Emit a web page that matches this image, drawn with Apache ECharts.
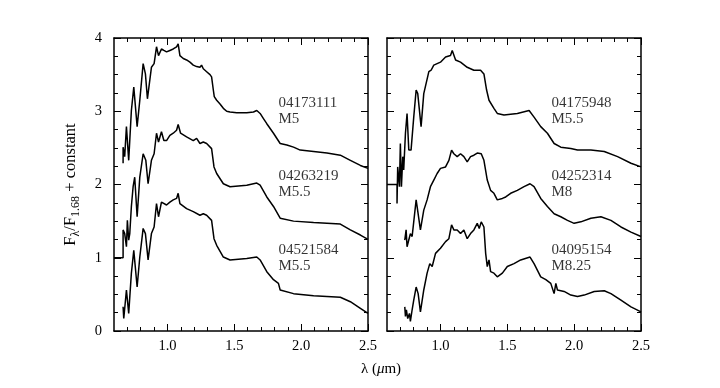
<!DOCTYPE html>
<html>
<head>
    <meta charset="utf-8">
    <title>M dwarf spectra</title>
    <script src="https://cdn.jsdelivr.net/npm/echarts@6/dist/echarts.min.js"></script>
    <style>
        html, body { margin: 0; padding: 0; background: #fff; }
        #chart { width: 720px; height: 388px; }
    </style>
</head>
<body>
<div id="chart"></div>
<script type="text/javascript">
    // spectra: [wavelength (um), F/F1.68 + constant]
    var s04173111 = [[0.668,2.29],[0.668,2.51],[0.68,2.38],[0.693,2.79],[0.71,2.33],[0.73,3.01],[0.748,3.33],[0.773,2.79],
        [0.793,3.15],[0.818,3.65],[0.835,3.51],[0.85,3.17],[0.88,3.60],[0.90,3.65],[0.918,3.88],[0.933,3.76],[0.955,3.85],
        [0.973,3.83],[0.993,3.81],[1.018,3.83],[1.043,3.85],[1.068,3.88],[1.08,3.92],[1.093,3.76],[1.118,3.72],[1.143,3.70],
        [1.168,3.67],[1.193,3.63],[1.218,3.61],[1.243,3.60],[1.255,3.63],[1.268,3.58],[1.293,3.54],[1.318,3.50],[1.33,3.47],
        [1.343,3.29],[1.35,3.20],[1.368,3.15],[1.393,3.10],[1.418,3.04],[1.443,3.00],[1.468,2.99],[1.518,2.98],[1.593,2.98],
        [1.643,2.99],[1.668,3.01],[1.693,2.97],[1.718,2.90],[1.743,2.83],[1.793,2.70],[1.843,2.56],[1.893,2.54],[1.943,2.51],
        [1.993,2.47],[2.093,2.45],[2.193,2.43],[2.293,2.40],[2.368,2.33],[2.443,2.26],[2.5,2.22]];
    var s04263219 = [[0.6,1.0],[0.668,1.0],[0.668,1.38],[0.68,1.33],[0.693,1.15],[0.70,1.51],[0.71,1.24],[0.718,1.33],
        [0.73,1.70],[0.743,1.97],[0.755,2.10],[0.773,1.56],[0.793,2.10],[0.818,2.42],[0.838,2.33],[0.855,2.01],[0.88,2.33],
        [0.90,2.42],[0.918,2.70],[0.933,2.58],[0.955,2.72],[0.973,2.60],[0.993,2.60],[1.018,2.67],[1.043,2.70],[1.068,2.74],
        [1.08,2.82],[1.098,2.70],[1.143,2.65],[1.193,2.60],[1.218,2.63],[1.243,2.56],[1.268,2.58],[1.293,2.56],[1.33,2.49],
        [1.348,2.24],[1.368,2.15],[1.418,2.01],[1.468,1.97],[1.593,1.99],[1.668,2.02],[1.693,1.99],[1.743,1.83],[1.793,1.70],
        [1.843,1.54],[1.943,1.50],[2.093,1.48],[2.193,1.47],[2.293,1.46],[2.368,1.38],[2.443,1.31],[2.5,1.25]];
    var s04521584 = [[0.668,0.33],[0.673,0.17],[0.693,0.56],[0.71,0.24],[0.73,0.79],[0.748,1.10],[0.773,0.60],[0.793,1.01],
        [0.818,1.40],[0.835,1.33],[0.855,0.97],[0.88,1.33],[0.90,1.42],[0.918,1.74],[0.933,1.56],[0.955,1.76],[0.993,1.72],
        [1.018,1.76],[1.043,1.79],[1.068,1.81],[1.08,1.88],[1.093,1.74],[1.143,1.67],[1.193,1.63],[1.243,1.58],[1.268,1.60],
        [1.293,1.58],[1.33,1.51],[1.348,1.26],[1.368,1.17],[1.418,1.01],[1.468,0.97],[1.593,0.99],[1.668,1.01],[1.693,0.97],
        [1.743,0.81],[1.793,0.70],[1.83,0.65],[1.843,0.56],[1.943,0.51],[2.093,0.48],[2.193,0.47],[2.293,0.46],[2.368,0.40],
        [2.443,0.31],[2.5,0.24]];
    var s04175948 = [[0.6,2.0],[0.675,2.0],[0.675,1.74],[0.68,2.24],[0.693,1.97],[0.70,2.56],[0.708,1.97],[0.718,2.38],
        [0.725,2.20],[0.738,2.70],[0.75,2.97],[0.763,2.47],[0.78,2.47],[0.80,2.92],[0.818,3.29],[0.83,3.24],[0.855,2.79],
        [0.875,3.24],[0.913,3.54],[0.93,3.56],[0.95,3.63],[0.975,3.65],[1.0,3.67],[1.038,3.74],[1.075,3.76],[1.088,3.83],
        [1.113,3.70],[1.15,3.67],[1.20,3.60],[1.25,3.56],[1.30,3.56],[1.325,3.51],[1.345,3.29],[1.363,3.15],[1.40,3.04],
        [1.425,2.97],[1.475,2.95],[1.575,2.97],[1.663,3.01],[1.70,2.92],[1.75,2.79],[1.80,2.70],[1.85,2.56],[1.90,2.51],
        [1.975,2.49],[2.025,2.47],[2.125,2.47],[2.225,2.45],[2.325,2.38],[2.425,2.29],[2.5,2.24]];
    var s04252314 = [[0.733,1.24],[0.743,1.38],[0.75,1.15],[0.763,1.17],[0.775,1.33],[0.788,1.29],[0.818,1.79],[0.825,1.70],
        [0.85,1.38],[0.875,1.65],[0.90,1.79],[0.925,1.97],[0.95,2.06],[0.975,2.15],[1.0,2.22],[1.038,2.24],[1.063,2.33],
        [1.083,2.47],[1.10,2.42],[1.125,2.38],[1.15,2.42],[1.175,2.38],[1.20,2.31],[1.225,2.38],[1.25,2.40],[1.275,2.43],
        [1.305,2.42],[1.325,2.33],[1.35,2.06],[1.375,1.92],[1.40,1.88],[1.425,1.79],[1.463,1.81],[1.488,1.83],[1.525,1.88],
        [1.575,1.92],[1.625,1.97],[1.67,2.01],[1.70,1.97],[1.75,1.81],[1.80,1.70],[1.85,1.60],[1.90,1.56],[1.95,1.51],
        [2.0,1.47],[2.05,1.49],[2.125,1.54],[2.20,1.56],[2.275,1.51],[2.35,1.42],[2.425,1.35],[2.5,1.29]];
    var s04095154 = [[0.733,0.33],[0.738,0.20],[0.745,0.29],[0.755,0.17],[0.768,0.24],[0.775,0.13],[0.788,0.29],[0.80,0.42],
        [0.818,0.60],[0.833,0.51],[0.85,0.26],[0.875,0.56],[0.90,0.79],[0.92,0.92],[0.938,0.88],[0.963,1.06],[1.0,1.13],
        [1.038,1.22],[1.063,1.26],[1.083,1.45],[1.10,1.38],[1.125,1.38],[1.15,1.33],[1.175,1.38],[1.20,1.26],[1.225,1.33],
        [1.25,1.38],[1.275,1.47],[1.29,1.40],[1.305,1.49],[1.325,1.42],[1.338,1.06],[1.35,0.88],[1.363,0.97],[1.375,0.81],[1.40,0.79],
        [1.425,0.74],[1.463,0.79],[1.50,0.88],[1.55,0.92],[1.60,0.97],[1.67,1.01],[1.70,0.92],[1.75,0.74],[1.788,0.70],
        [1.825,0.65],[1.85,0.51],[1.863,0.65],[1.875,0.56],[1.925,0.54],[1.975,0.49],[2.025,0.47],[2.075,0.49],[2.15,0.54],
        [2.225,0.55],[2.275,0.51],[2.35,0.42],[2.425,0.33],[2.5,0.26]];

    // star names / spectral types and where their labels sit
    var leftNames = ['04173111\nM5', '04263219\nM5.5', '04521584\nM5.5'];
    var rightNames = ['04175948\nM5.5', '04252314\nM8', '04095154\nM8.25'];
    var labelX = 1.83;
    var labelY = [3.0, 2.0, 1.0];

    var xMajor = [1.0, 1.5, 2.0, 2.5];
    var xMinor = [0.7, 0.8, 0.9, 1.0, 1.1, 1.2, 1.3, 1.4, 1.5, 1.6, 1.7, 1.8, 1.9, 2.0, 2.1, 2.2, 2.3, 2.4];

    var serif = '"Liberation Serif", "DejaVu Serif", serif';
    var black = '#000';

    function xAxesFor(gi, pos, labels) {
        var base = {
            type: 'value', gridIndex: gi, position: pos, min: 0.6, max: 2.5,
            splitLine: { show: false }
        };
        return [
            Object.assign({}, base, {
                axisLine: { show: true, onZero: false, lineStyle: { color: black, width: 1.5 } },
                axisTick: { show: true, inside: true, length: 4, customValues: xMinor, lineStyle: { color: black } },
                axisLabel: {
                    show: labels, customValues: xMajor, margin: 8, color: black,
                    fontFamily: serif, fontSize: 14.5,
                    formatter: function (v) { return v.toFixed(1); }
                }
            }),
            Object.assign({}, base, {
                axisLine: { show: false, onZero: false },
                axisTick: { show: true, inside: true, length: 7, customValues: xMajor, lineStyle: { color: black } },
                axisLabel: { show: false }
            })
        ];
    }

    function yAxisFor(gi, pos, labels) {
        var ax = {
            type: 'value', gridIndex: gi, position: pos, min: 0, max: 4, interval: 1,
            splitLine: { show: false },
            axisLine: { show: true, onZero: false, lineStyle: { color: black, width: 1.5 } },
            axisTick: { show: true, inside: true, length: 7, lineStyle: { color: black } },
            minorTick: { show: true, splitNumber: 4, length: 4, lineStyle: { color: black } },
            axisLabel: { show: labels, margin: 12, color: black, fontFamily: serif, fontSize: 14.5 }
        };
        if (gi === 0 && pos === 'left') {
            ax.name = '{n|F}{s|λ}{n|/F}{s|1.68}{n| + constant}';
            ax.nameLocation = 'middle';
            ax.nameGap = 32;
            ax.nameTextStyle = {
                color: black, fontFamily: serif,
                rich: {
                    n: { fontSize: 16.5, lineHeight: 22, color: black, fontFamily: serif },
                    s: { fontSize: 12, lineHeight: 12, verticalAlign: 'bottom', color: black, fontFamily: serif }
                }
            };
        }
        return ax;
    }

    var xAxes = [].concat(
        xAxesFor(0, 'bottom', true), xAxesFor(0, 'top', false),
        xAxesFor(1, 'bottom', true), xAxesFor(1, 'top', false)
    );
    var yAxes = [yAxisFor(0, 'left', true), yAxisFor(0, 'right', false),
        yAxisFor(1, 'left', false), yAxisFor(1, 'right', false)];

    function spectrum(data, xi, yi) {
        return {
            type: 'line', data: data, xAxisIndex: xi, yAxisIndex: yi,
            symbol: 'none', silent: true,
            lineStyle: { color: black, width: 1.5 }
        };
    }

    function names(list, xi, yi) {
        return {
            type: 'scatter', xAxisIndex: xi, yAxisIndex: yi, symbolSize: 0, silent: true,
            data: list.map(function (t, i) { return { value: [labelX, labelY[i]], name: t }; }),
            label: {
                show: true, position: 'right', distance: 0, color: black,
                fontFamily: serif, fontSize: 15, lineHeight: 16, align: 'left',
                formatter: function (p) { return p.name; }
            }
        };
    }

    var myChart = echarts.init(document.getElementById('chart'));
    myChart.setOption({
        animation: false,
        backgroundColor: '#fff',
        grid: [
            { left: 114, top: 38, width: 254, height: 293 },
            { left: 387, top: 38, width: 254, height: 293 }
        ],
        xAxis: xAxes,
        yAxis: yAxes,
        graphic: [{
            type: 'text', x: 381, y: 369,
            style: {
                text: '{n|λ (}{i|μ}{n|m)}',
                align: 'center', verticalAlign: 'middle',
                rich: {
                    n: { fontSize: 15, fontFamily: serif, fill: black },
                    i: { fontSize: 15, fontFamily: serif, fontStyle: 'italic', fill: black }
                }
            }
        }],
        series: [
            spectrum(s04173111, 0, 0),
            spectrum(s04263219, 0, 0),
            spectrum(s04521584, 0, 0),
            spectrum(s04175948, 4, 2),
            spectrum(s04252314, 4, 2),
            spectrum(s04095154, 4, 2),
            names(leftNames, 0, 0),
            names(rightNames, 4, 2)
        ]
    });
</script>
</body>
</html>
